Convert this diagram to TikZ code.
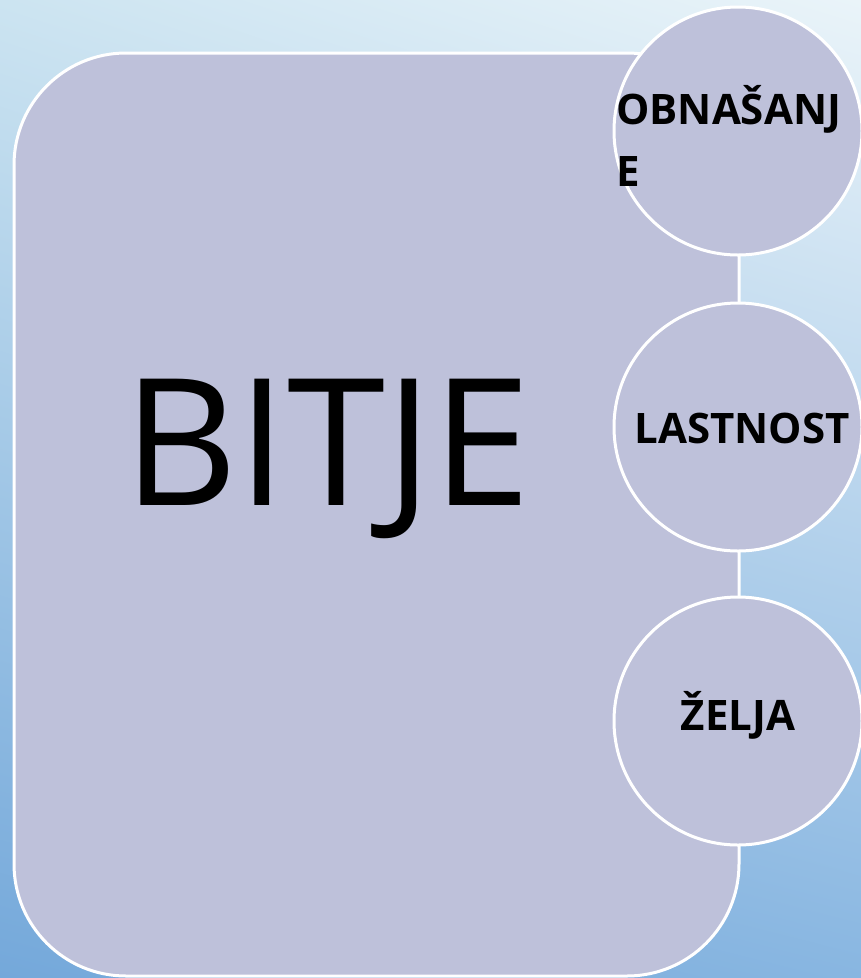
\documentclass[tikz,border=0pt]{standalone}
\usepackage{fontspec}
\setmainfont{Open Sans}
\usetikzlibrary{shadings}
\definecolor{bgTL}{HTML}{CCE4F1}
\definecolor{bgTR}{HTML}{EAF4F9}
\definecolor{bgBL}{HTML}{74A8DA}
\definecolor{bgBR}{HTML}{88B6E1}
\definecolor{boxfill}{HTML}{BEC1DA}
\begin{document}
\begin{tikzpicture}[x=1pt,y=-1pt,
  panel/.style={draw=white,line width=3pt,fill=boxfill,rounded corners=112pt},
  bubble/.style={circle,draw=white,line width=3pt,fill=boxfill,minimum size=248pt,inner sep=0pt},
  lbl/.style={font=\bfseries\fontsize{42}{54}\selectfont,anchor=base,inner sep=0pt},
  lblw/.style={font=\bfseries\fontsize{42}{54}\selectfont,anchor=base west,inner sep=0pt},
  big/.style={font=\fontsize{177}{200}\selectfont,anchor=base,inner sep=0pt}]
\useasboundingbox (0,0) rectangle (861,978);
\shade[upper left=bgTL,upper right=bgTR,lower left=bgBL,lower right=bgBR] (0,0) rectangle (861,978);
\draw[panel] (14,53) rectangle (739,976);
\node[big] (bitje) at (327,505) {BITJE};
\node[bubble] (c1) at (738,131) {};
\node[bubble] (c2) at (738,427) {};
\node[bubble] (c3) at (738,721) {};
\node[lblw] (t1a) at (616,124) {OBNAŠANJ};
\node[lblw] (t1b) at (616,186) {E};
\node[lbl] (t2) at (742,443) {LASTNOST};
\node[lbl] (t3) at (738,730) {ŽELJA};
\end{tikzpicture}
\end{document}
